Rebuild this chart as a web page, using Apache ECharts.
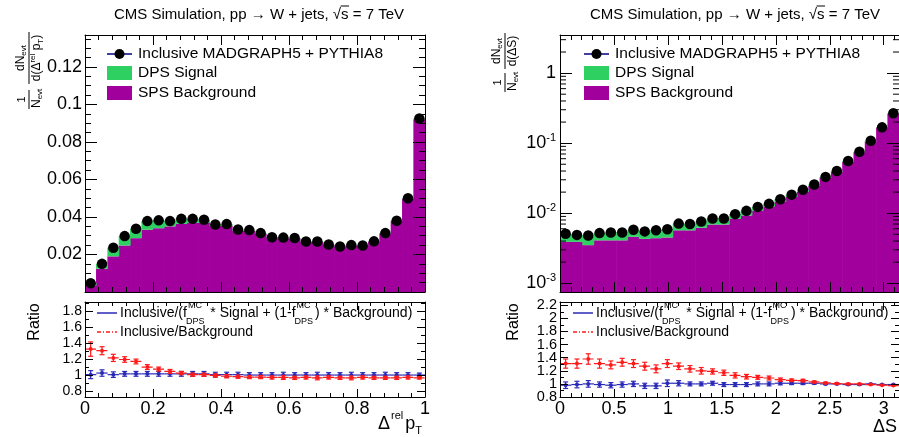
<!DOCTYPE html>
<html><head><meta charset="utf-8">
<script src="https://cdn.jsdelivr.net/npm/echarts@6/dist/echarts.min.js"></script>
<style>html,body{margin:0;padding:0;background:#fff}#c{width:899px;height:437px}</style>
</head><body><div id="c"></div>
<script>
const FONT = '"Liberation Sans", Arial, Helvetica, sans-serif';
const nBins = 30;
const xMaxL = 1;
const xMaxR = Math.PI;

// ---------- Left panel: Δrel pT ----------
const inclusiveL = [0.0047,0.0150,0.0236,0.0298,0.0337,0.0378,0.0382,0.0378,0.0390,0.0390,0.0385,0.0360,0.0362,0.0333,0.0330,0.0314,0.0292,0.0290,0.0288,0.0269,0.0269,0.0253,0.0243,0.0250,0.0248,0.0270,0.0314,0.0380,0.0500,0.0925];
const spsL = [0.0035,0.0124,0.0190,0.0248,0.0287,0.0332,0.0340,0.0350,0.0363,0.0370,0.0368,0.0352,0.0355,0.0328,0.0326,0.0310,0.0289,0.0287,0.0285,0.0267,0.0267,0.0251,0.0241,0.0248,0.0246,0.0268,0.0312,0.0378,0.0497,0.0921];
const dpsL = [0.0012,0.0026,0.0046,0.0050,0.0050,0.0046,0.0042,0.0028,0.0027,0.0020,0.0017,0.0008,0.0007,0.0005,0.0004,0.0004,0.0003,0.0003,0.0003,0.0002,0.0002,0.0002,0.0002,0.0002,0.0002,0.0002,0.0002,0.0002,0.0003,0.0004];
const ratioBkgL = [1.33,1.31,1.22,1.20,1.175,1.105,1.08,1.05,1.03,1.01,1.01,1.00,0.99,0.985,0.98,0.98,0.975,0.975,0.97,0.975,0.97,0.975,0.97,0.97,0.975,0.97,0.97,0.97,0.975,0.97];
const ratioBkgErrL = [0.09,0.05,0.045,0.035,0.03,0.03,0.025,0.025,0.02,0.02,0.02,0.02,0.02,0.02,0.02,0.02,0.02,0.025,0.02,0.02,0.025,0.02,0.02,0.025,0.02,0.02,0.02,0.02,0.02,0.015];
const ratioFitL = [1.01,1.03,1.01,1.02,1.02,1.02,1.02,1.02,1.02,1.02,1.02,1.01,1.01,1.01,1.005,1.005,1.005,1.005,1.005,1.005,1.005,1.005,1.005,1.005,1.005,1.005,1.005,1.005,1.005,1.005];
const ratioFitErrL = [0.05,0.04,0.035,0.03,0.03,0.03,0.03,0.03,0.03,0.03,0.03,0.03,0.03,0.03,0.03,0.03,0.03,0.035,0.03,0.03,0.035,0.03,0.03,0.035,0.03,0.03,0.035,0.03,0.03,0.025];

// ---------- Right panel: ΔS ----------
const inclusiveR = [0.0051,0.0049,0.0048,0.0052,0.0053,0.0053,0.0058,0.0055,0.0057,0.0059,0.0071,0.0070,0.0076,0.0084,0.0084,0.0097,0.0108,0.0123,0.0136,0.0158,0.0184,0.0216,0.0257,0.0330,0.0400,0.0556,0.0753,0.1080,0.1680,0.2680];
const spsR = [0.0039,0.0039,0.0035,0.0041,0.0041,0.0041,0.0046,0.0043,0.0044,0.0045,0.0057,0.0057,0.0062,0.0069,0.0069,0.0083,0.0093,0.0109,0.0125,0.0146,0.0170,0.0203,0.0245,0.0320,0.0390,0.0540,0.0740,0.1060,0.1660,0.2660];
const dpsR = [0.0012,0.0010,0.0013,0.0011,0.0012,0.0012,0.0012,0.0012,0.0013,0.0014,0.0014,0.0013,0.0014,0.0015,0.0015,0.0014,0.0015,0.0014,0.0011,0.0012,0.0014,0.0013,0.0012,0.0010,0.0010,0.0016,0.0013,0.0020,0.0020,0.0020];
const ratioBkgR = [1.31,1.31,1.38,1.31,1.29,1.33,1.31,1.27,1.23,1.31,1.27,1.23,1.20,1.19,1.17,1.13,1.11,1.10,1.09,1.065,1.055,1.05,1.03,1.015,1.005,1.0,1.0,0.99,0.98,0.975];
const ratioBkgErrR = [0.07,0.07,0.08,0.07,0.06,0.06,0.06,0.06,0.06,0.06,0.05,0.05,0.05,0.04,0.04,0.04,0.035,0.03,0.03,0.025,0.02,0.02,0.015,0.012,0.01,0.01,0.008,0.006,0.005,0.004];
const ratioFitR = [0.98,0.99,1.0,0.99,0.98,0.99,1.0,0.97,0.97,1.01,1.01,1.0,1.0,1.01,0.99,0.99,0.99,1.0,1.0,1.01,1.01,1.01,1.01,1.0,1.0,0.99,0.99,1.0,0.99,0.99];
const ratioFitErrR = [0.05,0.05,0.05,0.04,0.04,0.04,0.04,0.04,0.04,0.05,0.04,0.03,0.03,0.03,0.03,0.03,0.03,0.03,0.03,0.025,0.02,0.02,0.015,0.012,0.01,0.01,0.008,0.006,0.005,0.004];
const ratioTickLabelsR = [0.8,1,1.2,1.4,1.6,1.8,2,2.2];
const logDecades = [-3,-2,-1,0];
const logMantissas = [2,3,4,5,6,7,8,9];

// ---------- labels ----------
const titleText = 'CMS Simulation, pp \u2192 W + jets, \u221As = 7 TeV';
const legendTop = ['Inclusive MADGRAPH5 + PYTHIA8','DPS Signal','SPS Background'];

const PURPLE = '#a2009c', GREEN = '#2fd062', BLUE = '#2a2ab8', RED = '#ff1a1a';
const LOGMIN = 7.5e-4, LOGMAX = 3.5;

const mctx = document.createElement('canvas').getContext('2d');
function tw(t, s){ mctx.font = s + 'px ' + FONT; return mctx.measureText(t).width; }

function edges(i, xmax){ return [i*xmax/nBins, (i+1)*xmax/nBins]; }

function histData(base, tops, xmax, baseline){
  return tops.map((v,i)=>{ const e = edges(i,xmax); const b = base ? base[i] : baseline; return [e[0], e[1], b, base ? b + v : v]; });
}
function rectRender(color){
  return function(params, api){
    const p0 = api.coord([api.value(0), api.value(3)]);
    const p1 = api.coord([api.value(1), api.value(2)]);
    return {type:'rect', shape:{x:p0[0]-0.3, y:p0[1], width:p1[0]-p0[0]+0.6, height:p1[1]-p0[1]}, style:{fill:color}};
  };
}
function ratioData(vals, errs, xmax){
  return vals.map((v,i)=>{ const e = edges(i,xmax); return [e[0], e[1], v, errs[i]]; });
}
function ratioRender(color, dashed){
  return function(params, api){
    const x0=api.value(0), x1=api.value(1), v=api.value(2), er=api.value(3), xc=(x0+x1)/2;
    const a=api.coord([x0,v]), b=api.coord([x1,v]), t=api.coord([xc,v+er]), bt=api.coord([xc,v-er]), c=api.coord([xc,v]);
    const st={stroke:color, lineWidth:1.2};
    return {type:'group', children:[
      {type:'line', shape:{x1:a[0],y1:a[1],x2:b[0],y2:b[1]}, style:Object.assign({}, st, dashed?{lineDash:[4,3]}:{})},
      {type:'line', shape:{x1:t[0],y1:t[1],x2:bt[0],y2:bt[1]}, style:st},
      {type:'line', shape:{x1:t[0]-2.5,y1:t[1],x2:t[0]+2.5,y2:t[1]}, style:st},
      {type:'line', shape:{x1:bt[0]-2.5,y1:bt[1],x2:bt[0]+2.5,y2:bt[1]}, style:st},
      {type:'circle', shape:{cx:c[0],cy:c[1],r:2}, style:{fill:color}}
    ]};
  };
}
function logMinorRender(params, api){
  const v = api.value(0);
  const l = api.coord([0, v]), r = api.coord([xMaxR, v]);
  const st = {stroke:'#000', lineWidth:1};
  return {type:'group', children:[
    {type:'line', shape:{x1:l[0], y1:l[1], x2:l[0]+6, y2:l[1]}, style:st},
    {type:'line', shape:{x1:r[0], y1:r[1], x2:r[0]-6, y2:r[1]}, style:st}
  ]};
}
function tickLabelRender(params, api){
  const v = api.value(0);
  const p = api.coord([0, v]);
  return {type:'text', x:p[0]-3, y:p[1], style:{text:String(v), fontSize:14.5, fontFamily:FONT, fill:'#000', align:'right', verticalAlign:'middle'}};
}

function axis(gridIndex, position, o){
  return {
    gridIndex, position, type: o.type || 'value', min:o.min, max:o.max, interval:o.interval, splitNumber:o.splitNumber,
    logBase: o.type === 'log' ? 10 : undefined, z: 10,
    axisLine:{show:true, onZero:false, lineStyle:{color:'#000', width:1}},
    axisTick:{show:true, inside:true, length:o.tickLen || 10, lineStyle:{color:'#000', width:1}},
    minorTick:{show: o.minor ? true : false, splitNumber:o.minor || 5, length:(o.tickLen||10)/2, lineStyle:{color:'#000', width:1}},
    splitLine:{show:false}, minorSplitLine:{show:false},
    axisLabel:{show: !!o.labels, color:'#000', fontFamily:FONT, fontSize:o.fontSize || 14, margin:o.margin || 4,
      lineHeight:o.lineHeight, hideOverlap:false,
      showMinLabel:o.showMin, showMaxLabel:o.showMax, formatter:o.formatter, rich:o.rich}
  };
}

const logFmt = v => { const e = Math.round(Math.log10(v)); return e === 0 ? '1' : '10{s|' + e + '}'; };
const logRich = {s:{fontSize:11, fontFamily:FONT, color:'#000', verticalAlign:'top', padding:[0,0,10,0]}};

const GL = [{left:85, top:35, width:340, height:257},{left:85, top:302, width:340, height:95},
            {left:560, top:35, width:341, height:257},{left:560, top:302, width:341, height:95}];

const xAxes = [
  axis(0,'bottom',{min:0,max:xMaxL,interval:0.2,minor:5}),
  axis(0,'top',{min:0,max:xMaxL,interval:0.2,minor:5}),
  axis(1,'bottom',{min:0,max:xMaxL,interval:0.2,minor:5,tickLen:8,labels:true,fontSize:18,margin:3,showMax:true}),
  axis(1,'top',{min:0,max:xMaxL,interval:0.2,minor:5,tickLen:8}),
  axis(2,'bottom',{min:0,max:xMaxR,interval:0.5,minor:5}),
  axis(2,'top',{min:0,max:xMaxR,interval:0.5,minor:5}),
  axis(3,'bottom',{min:0,max:xMaxR,interval:0.5,minor:5,tickLen:8,labels:true,fontSize:18,margin:3,showMax:false}),
  axis(3,'top',{min:0,max:xMaxR,interval:0.5,minor:5,tickLen:8})
];
const yAxes = [
  axis(0,'left',{min:0,max:0.137,interval:0.02,minor:4,tickLen:12,labels:true,fontSize:18,margin:3,showMin:false,showMax:false}),
  axis(0,'right',{min:0,max:0.137,interval:0.02,minor:4,tickLen:12}),
  axis(1,'left',{min:0.73,max:1.92,splitNumber:5,minor:2,tickLen:8,labels:true,fontSize:14,lineHeight:14,margin:3,showMin:false,showMax:false}),
  axis(1,'right',{min:0.73,max:1.92,splitNumber:5,minor:2,tickLen:8}),
  axis(2,'left',{type:'log',min:LOGMIN,max:LOGMAX,splitNumber:4,tickLen:12,labels:true,fontSize:18,margin:4,showMin:false,showMax:false,formatter:logFmt,rich:logRich}),
  axis(2,'right',{type:'log',min:LOGMIN,max:LOGMAX,splitNumber:4,tickLen:12}),
  axis(3,'left',{min:0.8,max:2.25,interval:0.2,minor:2,tickLen:8}),
  axis(3,'right',{min:0.8,max:2.25,interval:0.2,minor:2,tickLen:8})
];

const logMinorVals = [];
logDecades.forEach(d => logMantissas.forEach(m => { const v = m*Math.pow(10,d); if (v > LOGMIN && v < LOGMAX) logMinorVals.push([v]); }));

const series = [
  {type:'custom', xAxisIndex:0, yAxisIndex:0, data:histData(null, spsL, xMaxL, 0), renderItem:rectRender(PURPLE), clip:true, z:2, silent:true},
  {type:'custom', xAxisIndex:0, yAxisIndex:0, data:histData(spsL, dpsL, xMaxL, 0), renderItem:rectRender(GREEN), clip:true, z:2, silent:true},
  {type:'scatter', xAxisIndex:0, yAxisIndex:0, data:inclusiveL.map((v,i)=>[(i+0.5)*xMaxL/nBins, v]), symbol:'circle', symbolSize:10.5, itemStyle:{color:'#000', opacity:1}, z:5, silent:true},
  {type:'custom', xAxisIndex:2, yAxisIndex:2, data:ratioData(ratioFitL, ratioFitErrL, xMaxL), renderItem:ratioRender(BLUE,false), clip:true, z:3, silent:true},
  {type:'custom', xAxisIndex:2, yAxisIndex:2, data:ratioData(ratioBkgL, ratioBkgErrL, xMaxL), renderItem:ratioRender(RED,true), clip:true, z:4, silent:true},
  {type:'custom', xAxisIndex:4, yAxisIndex:4, data:histData(null, spsR, xMaxR, LOGMIN), renderItem:rectRender(PURPLE), clip:true, z:2, silent:true},
  {type:'custom', xAxisIndex:4, yAxisIndex:4, data:histData(spsR, dpsR, xMaxR, 0), renderItem:rectRender(GREEN), clip:true, z:2, silent:true},
  {type:'scatter', xAxisIndex:4, yAxisIndex:4, data:inclusiveR.map((v,i)=>[(i+0.5)*xMaxR/nBins, v]), symbol:'circle', symbolSize:10.5, itemStyle:{color:'#000', opacity:1}, z:5, silent:true},
  {type:'custom', xAxisIndex:4, yAxisIndex:4, data:logMinorVals, renderItem:logMinorRender, clip:false, z:11, silent:true},
  {type:'custom', xAxisIndex:6, yAxisIndex:6, data:ratioData(ratioFitR, ratioFitErrR, xMaxR), renderItem:ratioRender(BLUE,false), clip:true, z:3, silent:true},
  {type:'custom', xAxisIndex:6, yAxisIndex:6, data:ratioData(ratioBkgR, ratioBkgErrR, xMaxR), renderItem:ratioRender(RED,true), clip:true, z:4, silent:true},
  {type:'custom', xAxisIndex:6, yAxisIndex:6, data:ratioTickLabelsR.map(v=>[v]), renderItem:tickLabelRender, clip:false, z:11, silent:true}
];

// ---------- graphic texts ----------
const G = [];
function T(x, y, text, size, align, va, extra){
  G.push(Object.assign({type:'text', x, y, z:100, style:{text, fontSize:size, fontFamily:FONT, fill:'#000', align:align||'left', verticalAlign:va||'middle'}}, extra||{}));
}
// titles
[259, 735].forEach(cx=>{
  T(cx, 15, titleText, 15, 'center', 'middle');
  const full = tw(titleText, 15), pre = tw('CMS Simulation, pp \u2192 W + jets, \u221A', 15), sw = tw('s', 15);
  const x0 = cx - full/2 + pre;
  G.push({type:'line', z:100, shape:{x1:x0-0.5, y1:6, x2:x0+sw+0.5, y2:6}, style:{stroke:'#000', lineWidth:1}});
});
// top legends
[0, 477].forEach(dx=>{
  G.push({type:'line', z:100, shape:{x1:107+dx, y1:54, x2:132+dx, y2:54}, style:{stroke:'#000080', lineWidth:1.5}});
  G.push({type:'circle', z:100, shape:{cx:119.5+dx, cy:54, r:5}, style:{fill:'#000'}});
  G.push({type:'rect', z:100, shape:{x:107+dx, y:66, width:25, height:14}, style:{fill:GREEN}});
  G.push({type:'rect', z:100, shape:{x:107+dx, y:86, width:25, height:14}, style:{fill:PURPLE}});
  T(138+dx, 54, legendTop[0], 15.5);
  T(138+dx, 73, legendTop[1], 15.5);
  T(138+dx, 93, legendTop[2], 15.5);
});
// ratio legends
[0, 476].forEach(dx=>{
  G.push({type:'line', z:100, shape:{x1:97+dx, y1:313, x2:117+dx, y2:313}, style:{stroke:BLUE, lineWidth:1.5}});
  G.push({type:'line', z:100, shape:{x1:97+dx, y1:332, x2:117+dx, y2:332}, style:{stroke:RED, lineWidth:1.5, lineDash:[4,2,1,2]}});
  let cx = 120+dx;
  const parts = ['Inclusive/(f', 'SS', ' * Signal + (1-f', 'SS', ') * Background)'];
  parts.forEach(p=>{
    if (p === 'SS'){
      T(cx+1, 306, 'MC', 9);
      T(cx-1, 322, 'DPS', 9);
      cx += Math.max(tw('MC',9), tw('DPS',9)) + 1;
    } else { T(cx, 313, p, 14); cx += tw(p, 14); }
  });
  T(120+dx, 332, 'Inclusive/Background', 14);
});
// Ratio y titles
T(35, 322, 'Ratio', 16, 'center', 'middle', {rotation:Math.PI/2});
T(514, 322, 'Ratio', 16, 'center', 'middle', {rotation:Math.PI/2});
// x-axis titles
(function(){
  let x = 378; const y = 424;
  T(x, y, '\u0394', 18); x += tw('\u0394',18);
  T(x+1, y-8, 'rel', 11); x += tw('rel',11) + 3;
  T(x, y, 'p', 18); x += tw('p',18);
  T(x, y+7, 'T', 11);
  T(897, 427, '\u0394S', 18, 'right', 'middle');
})();
// top y titles (rotated fractions)
function fracTitle(ox, oy, denomParts, f2start, f2end){
  const ch = [];
  const t = (x,y,text,size,align,va)=>ch.push({type:'text', x, y, style:{text, fontSize:size, fontFamily:FONT, fill:'#000', align:align||'left', verticalAlign:va||'middle'}});
  const ln = (x1,x2)=>ch.push({type:'line', shape:{x1, y1:0, x2, y2:0}, style:{stroke:'#000', lineWidth:1}});
  ln(1, 20);
  t(10.5, -7, '1', 11, 'center');
  t(2, 8, 'N', 12); t(2+tw('N',12), 11, 'evt', 8);
  ln(f2start, f2end);
  const numW = tw('dN',12) + tw('evt',8);
  let nx = (f2start+f2end)/2 - numW/2;
  t(nx, -8, 'dN', 12); t(nx+tw('dN',12), -5, 'evt', 8);
  let dw = 0; denomParts.forEach(p=>dw += tw(p[0], p[1]));
  let dxp = (f2start+f2end)/2 - dw/2;
  denomParts.forEach(p=>{ t(dxp, 8 + (p[2]||0), p[0], p[1]); dxp += tw(p[0], p[1]); });
  G.push({type:'group', x:ox, y:oy, rotation:Math.PI/2, z:100, children:ch});
}
fracTitle(29, 110, [['d(\u0394',12],['rel',8,-4],[' p',12],['T',8,4],[')',12]], 26, 78);
fracTitle(505, 93, [['d(\u0394S)',12]], 24, 60);

const chart = echarts.init(document.getElementById('c'), null, {renderer:'canvas'});
chart.setOption({
  animation:false, backgroundColor:'#fff',
  grid: GL, xAxis: xAxes, yAxis: yAxes, series, graphic: G
});
</script></body></html>
